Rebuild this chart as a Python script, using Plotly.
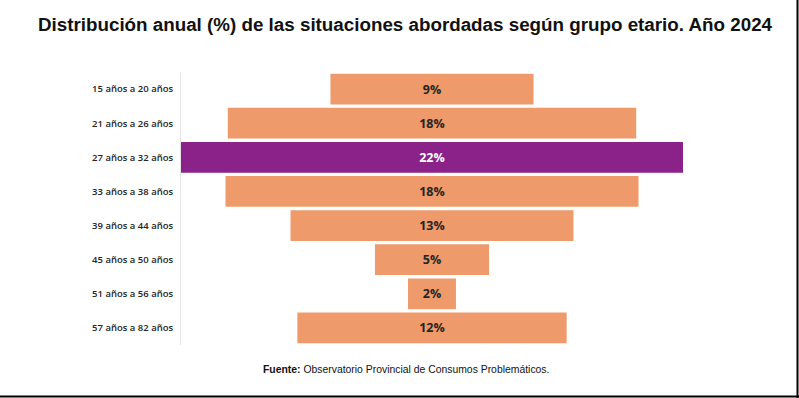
import plotly.graph_objects as go

categories = ["15 años a 20 años", "21 años a 26 años", "27 años a 32 años",
              "33 años a 38 años", "39 años a 44 años", "45 años a 50 años",
              "51 años a 56 años", "57 años a 82 años"]
values = [8.9, 17.9, 22.0, 18.1, 12.4, 5.0, 2.1, 11.8]
value_labels = ["9%", "18%", "22%", "18%", "13%", "5%", "2%", "12%"]
highlight = "27 años a 32 años"

ORANGE = "#EE9A6A"
PURPLE = "#8B2289"

colors = [PURPLE if c == highlight else ORANGE for c in categories]
text_colors = ["#FFFFFF" if c == highlight else "#252423" for c in categories]
bases = [-v / 2 for v in values]

fig = go.Figure(go.Bar(
    y=categories, x=values, base=bases, orientation="h",
    marker=dict(color=colors, line=dict(width=0)),
    width=0.9,
    text=value_labels, textposition="inside", insidetextanchor="middle",
    textfont=dict(family="Open Sans", size=12.5, color=text_colors, weight=700),
    cliponaxis=False, hoverinfo="skip",
))

W, H = 799, 398
L, T = 181, 72
R, B = W - 683, H - 345
pw, ph = W - L - R, H - T - B

def px_x(px):
    return (px - L) / pw

def px_y(py):
    return (H - B - py) / ph

fig.update_layout(
    width=W, height=H,
    margin=dict(l=L, r=R, t=T, b=B),
    paper_bgcolor="white", plot_bgcolor="white",
    showlegend=False,
    xaxis=dict(range=[-11, 11], visible=False, fixedrange=True),
    yaxis=dict(categoryorder="array", categoryarray=categories,
               autorange="reversed", showgrid=False, zeroline=False,
               showline=True, linecolor="#E4E4E4", linewidth=1,
               ticks="", ticklabelstandoff=5, fixedrange=True,
               tickfont=dict(family="Open Sans", size=9.5, color="#252423", weight=600)),
    annotations=[
        dict(text="<b>Distribución anual (%) de las situaciones abordadas según grupo etario. Año 2024</b>",
             xref="paper", yref="paper", x=px_x(405), y=px_y(25),
             xanchor="center", yanchor="middle", showarrow=False,
             font=dict(family="Liberation Sans", size=18.8, color="#111111")),
        dict(text="<b>Fuente:</b> Observatorio Provincial de Consumos Problemáticos.",
             xref="paper", yref="paper", x=px_x(406), y=px_y(369),
             xanchor="center", yanchor="middle", showarrow=False,
             font=dict(family="Liberation Sans", size=10.4, color="#111111")),
    ],
    shapes=[
        dict(type="line", xref="paper", yref="paper",
             x0=px_x(0), x1=px_x(799), y0=px_y(396.5), y1=px_y(396.5),
             line=dict(color="#000000", width=2)),
        dict(type="line", xref="paper", yref="paper",
             x0=px_x(797.5), x1=px_x(797.5), y0=px_y(0), y1=px_y(398),
             line=dict(color="#000000", width=2)),
    ],
)

fig.write_html("out.html",
               config={"displayModeBar": False, "staticPlot": True},
               post_script="document.body.style.margin='0';document.body.style.overflow='hidden';")
